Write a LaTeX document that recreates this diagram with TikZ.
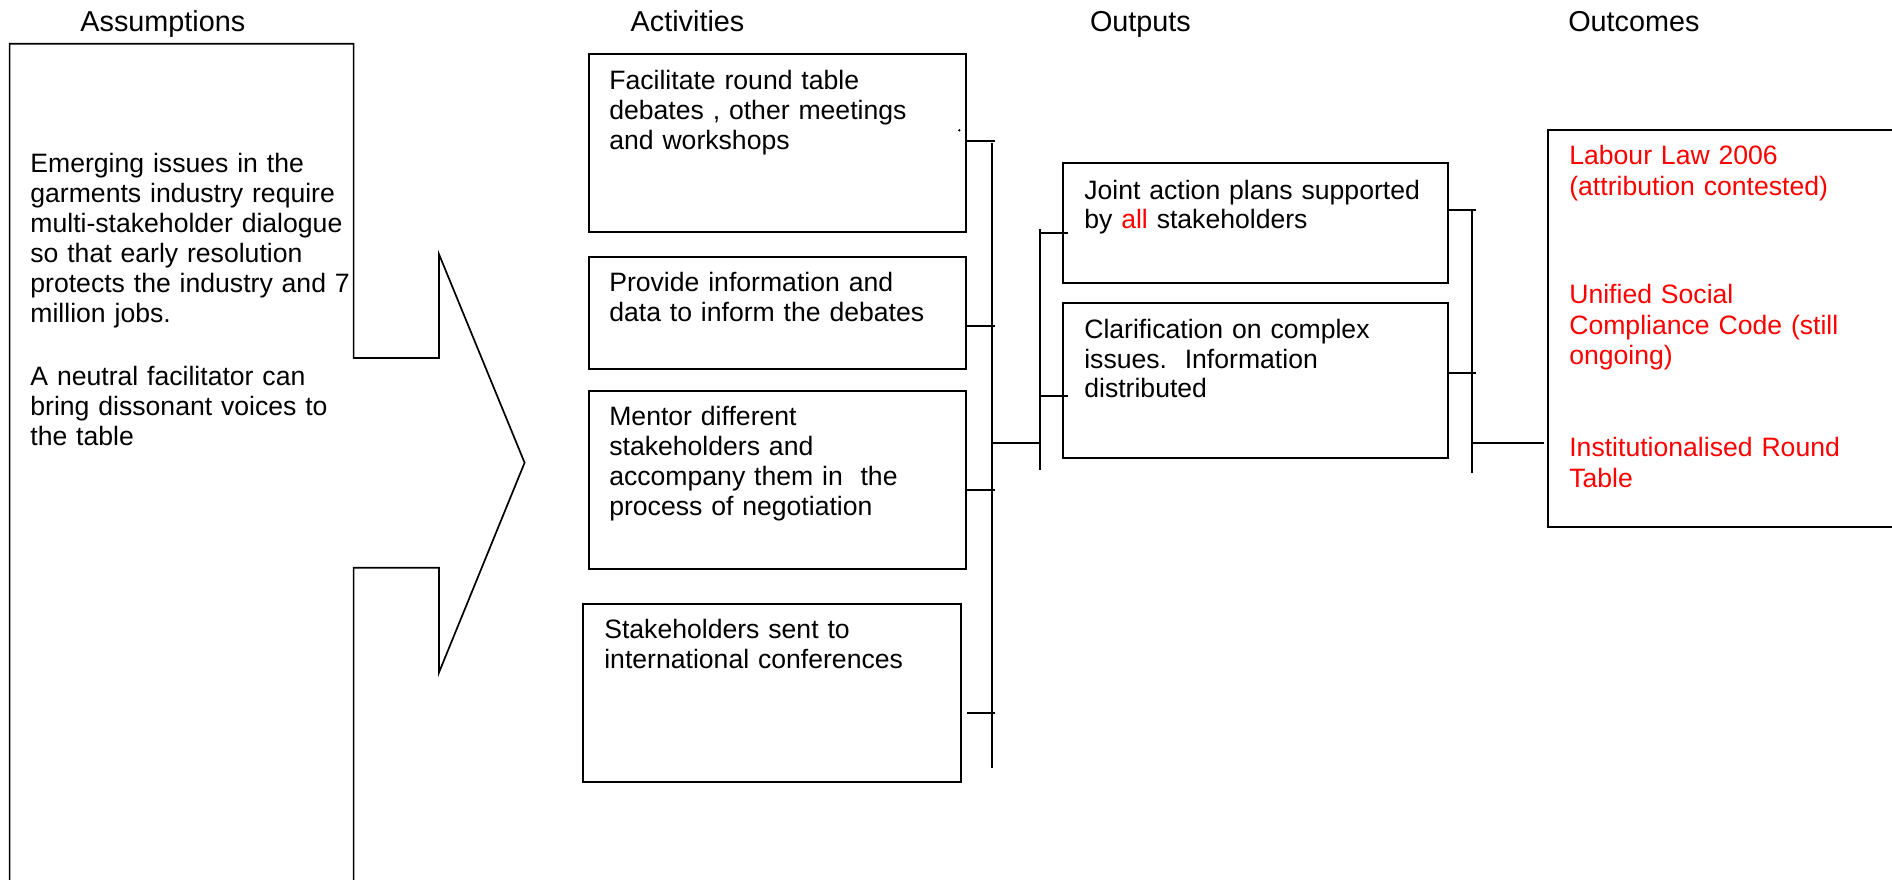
\documentclass[tikz,border=0pt]{standalone}
\usepackage{fontspec}
\setmainfont{Liberation Sans}
\usetikzlibrary{calc}
\frenchspacing
\begin{document}
\begin{tikzpicture}[x=1pt,y=-1pt,
  every node/.style={outer sep=0pt},
  heading/.style={anchor=base west, inner sep=0pt, font=\fontsize{28.8}{32}\selectfont},
  framebox/.style={draw, line width=1.7pt, anchor=north west, inner sep=0pt},
  bodytext/.style={anchor=base west, inner sep=0pt, align=left, text width=360pt,
    font=\fontsize{26.6}{30}\selectfont},
  outtext/.style={bodytext, font=\fontsize{26.6}{29.6}\selectfont},
  redtext/.style={bodytext, text=red, font=\fontsize{26.6}{30.8}\selectfont},
  link/.style={line width=1.8pt},
]
\useasboundingbox (0,0) rectangle (1892,880);
\clip (0,0) rectangle (1892,880);

% column headings
\node[heading] (hAss) at (80.4,31.7) {Assumptions};
\node[heading] (hAct) at (630.7,31.7) {Activities};
\node[heading] (hOut) at (1090,31.7) {Outputs};
\node[heading] (hOc)  at (1568.3,31.7) {Outcomes};

% assumptions block arrow
\draw[line width=1.7pt, line join=miter]
  (9.6,890) -- (9.6,43.7) -- (353.6,43.7) -- (353.6,358) -- (438.9,358) -- (438.9,254)
  -- (524.6,462.7) -- (438.9,672.7) -- (438.9,567.7) -- (353.6,567.7) -- (353.6,890);
\node[bodytext, text width=320pt] (assText) at (30.4,172.3)
  {Emerging issues in the\\ garments industry require\\ multi-stakeholder dialogue\\
   so that early resolution\\ protects the industry and 7\\ million jobs.\\[33.4pt]
   A neutral facilitator can\\ bring dissonant voices to\\ the table};

% activities
\node[framebox, minimum width=377.6pt, minimum height=178pt]   (a1) at (588.7,54.3) {};
\node[framebox, minimum width=377.6pt, minimum height=112.6pt] (a2) at (588.7,256.7) {};
\node[framebox, minimum width=377.6pt, minimum height=178.3pt] (a3) at (588.7,391) {};
\node[framebox, minimum width=377.7pt, minimum height=178.6pt] (a4) at (583.3,603.7) {};
\node[bodytext] (a1t) at ($(a1.north west)+(20.6,35.7)$) {Facilitate round table\\ debates , other meetings\\ and workshops};
\node[bodytext] (a2t) at ($(a2.north west)+(20.6,35)$) {Provide information and\\ data to inform the debates};
\node[bodytext] (a3t) at ($(a3.north west)+(20.6,34.7)$) {Mentor different\\ stakeholders and\\ accompany them in\ \ the\\ process of negotiation};
\node[bodytext] (a4t) at ($(a4.north west)+(21,34.6)$) {Stakeholders sent to\\ international conferences};
\node[circle, fill, inner sep=0pt, minimum size=2.6pt] (stray) at (959.3,130.3) {};

% outputs
\node[framebox, minimum width=384.4pt, minimum height=119.4pt] (o1) at (1063.3,163.3) {};
\node[framebox, minimum width=384.4pt, minimum height=155pt]   (o2) at (1063.3,303) {};
\node[outtext] (o1t) at ($(o1.north west)+(21,35.7)$) {Joint action plans supported\\ by {\color{red}all} stakeholders};
\node[outtext] (o2t) at ($(o2.north west)+(21,35.7)$) {Clarification on complex\\ issues.\ \ Information\\ distributed};

% outcomes
\node[framebox, minimum width=360pt, minimum height=397.3pt] (oc) at (1548.3,130) {};
\node[redtext] (oc1) at ($(oc.north west)+(21,34.3)$) {Labour Law 2006\\ (attribution contested)};
\node[redtext] (oc2) at ($(oc.north west)+(21,173.3)$) {Unified Social\\ Compliance Code (still\\ ongoing)};
\node[redtext] (oc3) at ($(oc.north west)+(21,326.7)$) {Institutionalised Round\\ Table};

% activities collector
\coordinate (aBusTop) at (991.7,142.7);
\coordinate (aBusBot) at (991.7,768.3);
\coordinate (aTick) at (995,0);
\draw[link] (aBusTop) -- (aBusBot);
\coordinate (a1s) at ($(a1.east)+(0,-2.6)$);
\coordinate (a2s) at ($(a2.east)+(0,12.7)$);
\coordinate (a3s) at ($(a3.east)+(0,9.85)$);
\coordinate (a4s) at ($(a4.east)+(6.3,20.3)$);
\draw[link] (a1s) -- (a1s -| aTick);
\draw[link] (a2s) -- (a2s -| aTick);
\draw[link] (a3s) -- (a3s -| aTick);
\draw[link] (a4s) -- (a4s -| aTick);

% link to outputs
\coordinate (aJoin) at (991.7,442.7);
\coordinate (oBusTop) at (1039.7,229.3);
\coordinate (oBusBot) at (1039.7,470);
\coordinate (oTickL) at (1067.7,0);
\draw[link] (aJoin) -- (aJoin -| oBusTop);
\draw[link] (oBusTop) -- (oBusBot);
\coordinate (o1in) at ($(o1.west)+(0,10.3)$);
\coordinate (o2in) at ($(o2.west)+(0,15.5)$);
\draw[link] (o1in -| oBusTop) -- (o1in -| oTickL);
\draw[link] (o2in -| oBusTop) -- (o2in -| oTickL);

% outputs collector
\coordinate (rBusTop) at (1471.7,209.3);
\coordinate (rBusBot) at (1471.7,472.7);
\coordinate (rTick) at (1475.7,0);
\draw[link] (rBusTop) -- (rBusBot);
\coordinate (o1out) at ($(o1.east)+(0,-13)$);
\coordinate (o2out) at ($(o2.east)+(0,-7.2)$);
\draw[link] (o1out) -- (o1out -| rTick);
\draw[link] (o2out) -- (o2out -| rTick);
\coordinate (rJoin) at (1471.7,442.7);
\draw[link] (rJoin) -- ($(rJoin -| oc.west)+(-4.3,0)$);
\end{tikzpicture}
\end{document}
